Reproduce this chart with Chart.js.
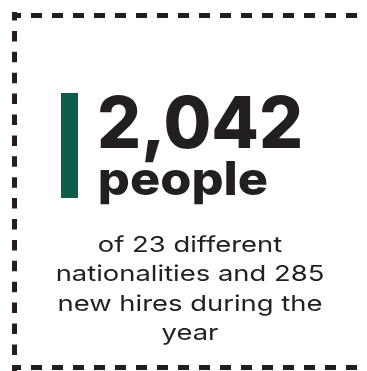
<!DOCTYPE html>
<html>
<head>
<meta charset="utf-8">
<script src="https://cdn.jsdelivr.net/npm/chart.js@4.4.1/dist/chart.umd.min.js"></script>
<style>
  html, body { margin: 0; padding: 0; background: #fff; }
  canvas { display: block; }
</style>
</head>
<body>
<canvas id="chart" width="367" height="371"></canvas>
<script>
// values
const categories = ["people"];
const peopleCount = [2042];
const nationalities = [23];
const newHires = [285];

const INK = "#231f20";
const GREEN = "#0b5c4b";
const FAMILY = "Inter, 'Noto Sans', sans-serif";

const headline = peopleCount[0].toLocaleString("en-US");
const captionLines = [
  `of ${nationalities[0]} different`,
  `nationalities and ${newHires[0]}`,
  "new hires during the",
  "year",
];

// dashed frame: top, left and bottom only (no right edge in the original)
const frame = {
  id: "frame",
  beforeDraw(chart) {
    const ctx = chart.ctx;
    ctx.save();
    ctx.fillStyle = "#fff";
    ctx.fillRect(0, 0, chart.width, chart.height);
    ctx.strokeStyle = INK;
    ctx.lineWidth = 5;
    ctx.lineCap = "butt";

    ctx.setLineDash([11, 10]);
    ctx.lineDashOffset = 2;
    ctx.beginPath();
    ctx.moveTo(12, 15.5);
    ctx.lineTo(358, 15.5);
    ctx.moveTo(12, 367.5);
    ctx.lineTo(358, 367.5);
    ctx.stroke();

    ctx.setLineDash([10.5, 10.4]);
    ctx.beginPath();
    ctx.moveTo(14.5, 12);
    ctx.lineTo(14.5, 371);
    ctx.stroke();
    ctx.restore();
  },
};

// draw text so its ink starts at `left`, sits on `baseline`, is `capH` tall and `width` wide
function fitText(ctx, text, weight, left, baseline, capH, width) {
  ctx.font = `${weight} 100px ${FAMILY}`;
  let m = ctx.measureText(text);
  const size = (100 * capH) / m.actualBoundingBoxAscent;
  ctx.font = `${weight} ${size}px ${FAMILY}`;
  m = ctx.measureText(text);
  const inkW = m.actualBoundingBoxLeft + m.actualBoundingBoxRight;
  ctx.save();
  ctx.translate(left, baseline);
  ctx.scale(width / inkW, 1);
  ctx.textAlign = "left";
  ctx.textBaseline = "alphabetic";
  ctx.fillText(text, m.actualBoundingBoxLeft, 0);
  ctx.restore();
}

const labels = {
  id: "labels",
  afterDraw(chart) {
    const ctx = chart.ctx;
    ctx.save();
    ctx.fillStyle = INK;

    fitText(ctx, headline, 800, 100, 147.7, 52.5, 200);
    fitText(ctx, categories[0], 800, 100, 195, 34, 167);

    // caption: one size for every line, centred
    ctx.font = `400 22px ${FAMILY}`;
    const m = ctx.measureText(captionLines[1]);
    const sx = 267 / (m.actualBoundingBoxLeft + m.actualBoundingBoxRight);
    const cx = 190;
    ctx.textAlign = "center";
    ctx.textBaseline = "alphabetic";
    captionLines.forEach((line, i) => {
      ctx.save();
      ctx.translate(cx, 252 + i * 29.3);
      ctx.scale(sx, 1);
      ctx.fillText(line, 0, 0);
      ctx.restore();
    });
    ctx.restore();
  },
};

new Chart(document.getElementById("chart"), {
  type: "bar",
  data: {
    labels: categories,
    datasets: [
      {
        data: peopleCount,
        backgroundColor: GREEN,
        borderWidth: 0,
        barPercentage: 1,
        categoryPercentage: 1,
      },
    ],
  },
  options: {
    responsive: false,
    animation: false,
    devicePixelRatio: 1,
    layout: { padding: { left: 61, right: 289, top: 93, bottom: 173 } },
    scales: {
      x: { display: false },
      y: { display: false, min: 0, max: peopleCount[0] },
    },
    plugins: {
      legend: { display: false },
      tooltip: { enabled: false },
    },
  },
  plugins: [frame, labels],
});
</script>
</body>
</html>
